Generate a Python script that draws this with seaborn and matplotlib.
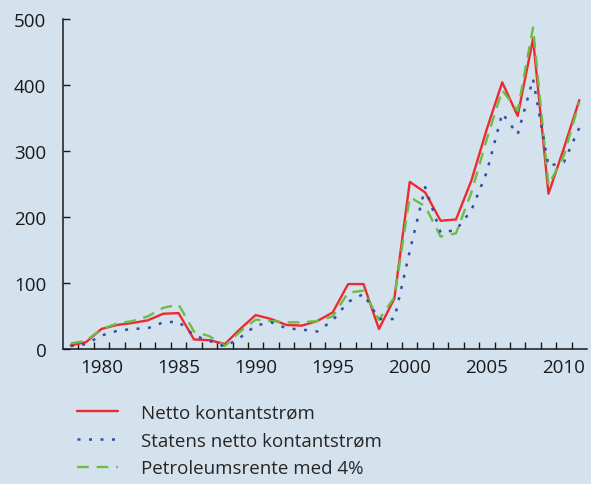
import numpy as np
import pandas as pd
import matplotlib
matplotlib.use("Agg")
import matplotlib.pyplot as plt
from matplotlib.lines import Line2D
from matplotlib.ticker import FixedLocator
import seaborn as sns

# Data
years = list(range(1978, 2012))
netto = [5, 10, 30, 36, 39, 43, 53, 54, 14, 13, 7, 30, 51, 45, 36, 35, 42, 55,
         98, 98, 30, 76, 253, 237, 194, 196, 255, 333, 404, 353, 470, 235, 304, 377]
statens = [4, 7, 20, 27, 30, 31, 40, 41, 20, 12, 3, 17, 35, 40, 31, 29, 26, 43,
           71, 83, 45, 45, 148, 245, 176, 180, 210, 268, 357, 325, 409, 277, 283, 335]
petro = [8, 12, 30, 38, 42, 49, 62, 67, 26, 19, 4, 26, 44, 42, 40, 40, 42, 49,
         85, 88, 44, 78, 230, 216, 170, 175, 237, 318, 392, 361, 487, 248, 293, 374]
labels = ["Netto kontantstrøm", "Statens netto kontantstrøm", "Petroleumsrente med 4%"]
xtick_years = [1980, 1985, 1990, 1995, 2000, 2005, 2010]
ytick_vals = [0, 100, 200, 300, 400, 500]

bg = "#d4e2ee"
red = "#ee2a2e"
blue = "#2f4fa3"
green = "#6cbd45"

sns.set_style("ticks")
plt.rcParams["font.family"] = ["Open Sans", "DejaVu Sans"]

df = pd.DataFrame({"Year": years, "netto": netto, "statens": statens, "petro": petro})

fig = plt.figure(figsize=(5.91, 4.85), dpi=100, facecolor=bg)
ax = fig.add_axes([63 / 591, 1 - 349.7 / 485, (587 - 63) / 591, (349.7 - 20) / 485])
ax.set_facecolor(bg)

lw = 1.7
sns.lineplot(data=df, x="Year", y="netto", ax=ax, color=red, linewidth=lw, zorder=3)
sns.lineplot(data=df, x="Year", y="petro", ax=ax, color=green, linewidth=lw,
             zorder=4).lines[-1].set_dashes([5, 3.3])
sns.lineplot(data=df, x="Year", y="statens", ax=ax, color=blue, linewidth=1.8,
             zorder=5).lines[-1].set_dashes([1.2, 3.4])

ax.set_xlim(1977.5, 2011.5)
ax.set_ylim(0, 500)
ax.set_xticks(xtick_years)
ax.xaxis.set_minor_locator(FixedLocator(np.arange(1978.5, 2011, 1)))
ax.set_yticks(ytick_vals)
ax.tick_params(axis="x", which="major", length=0, pad=7, labelsize=13.5, colors="#1a1a1a")
ax.tick_params(axis="x", which="minor", length=5, width=1, direction="in", color="#1a1a1a")
ax.tick_params(axis="y", length=5, width=1, direction="in", pad=12, labelsize=13.5,
               colors="#1a1a1a")
ax.set_xlabel("")
ax.set_ylabel("")
sns.despine(ax=ax)
for s in ["left", "bottom"]:
    ax.spines[s].set_linewidth(1.1)
    ax.spines[s].set_color("#1a1a1a")

handles = [
    Line2D([], [], color=red, linewidth=lw),
    Line2D([], [], color=blue, linewidth=1.8, dashes=[1.2, 3.4]),
    Line2D([], [], color=green, linewidth=lw, dashes=[5, 3.3]),
]
fig.legend(handles, labels, loc="upper left", bbox_to_anchor=(77 / 591, 1 - 405 / 485),
           frameon=False, fontsize=13.5, handlelength=2.2, handletextpad=1.2,
           labelspacing=0.52, borderpad=0, borderaxespad=0)

fig.savefig("out.png", dpi=100, facecolor=bg)
